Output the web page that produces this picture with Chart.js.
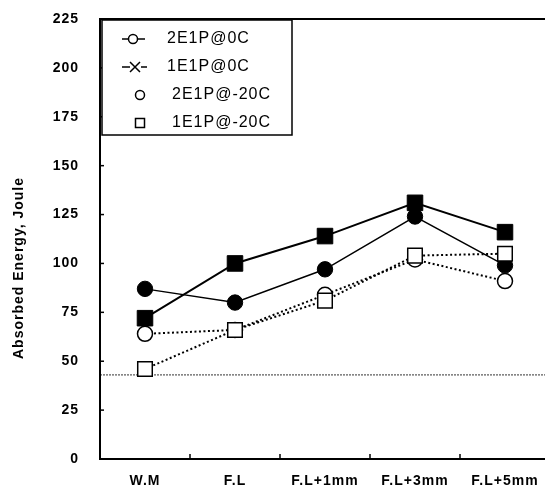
<!DOCTYPE html>
<html>
<head>
<meta charset="utf-8">
<script src="https://cdn.jsdelivr.net/npm/chart.js@4.4.0/dist/chart.umd.min.js"></script>
<style>
  html, body { margin: 0; padding: 0; background: #fff; overflow: hidden; }
</style>
</head>
<body>
<canvas id="chart" width="556" height="493"></canvas>
<script>
// categories and read-off values (Joule)
const categories = ['W.M', 'F.L', 'F.L+1mm', 'F.L+3mm', 'F.L+5mm'];
const e2p0C   = [87, 80, 97, 124, 99];    // filled circles, solid
const e1p0C   = [72, 100, 114, 131, 116]; // filled squares, solid
const e2pM20C = [64, 66, 84, 102, 91];    // open circles, dotted
const e1pM20C = [46, 66, 81, 104, 105];   // open squares, dotted
const refLine = 43;
const yMin = 0, yMax = 225, yStep = 25;

const legendRows = [
  { text: '2E1P@0C',   kind: 'lineCircle' },
  { text: '1E1P@0C',   kind: 'dashCross' },
  { text: '2E1P@-20C', kind: 'circle' },
  { text: '1E1P@-20C', kind: 'square' }
];

Chart.defaults.font.family = '"Liberation Sans", Arial, sans-serif';
Chart.defaults.color = '#000';

const extras = {
  id: 'extras',
  beforeDraw(chart) { chart.ctx.letterSpacing = '1px'; },
  beforeDatasetsDraw(chart) {
    const { ctx, chartArea: a, scales: { x, y } } = chart;
    ctx.save();
    // reference line
    const ry = y.getPixelForValue(refLine);
    ctx.strokeStyle = '#333';
    ctx.lineWidth = 1;
    ctx.setLineDash([2, 1]);
    ctx.beginPath(); ctx.moveTo(a.left, ry); ctx.lineTo(a.right, ry); ctx.stroke();
    ctx.setLineDash([]);
    // frame
    ctx.strokeStyle = '#000';
    ctx.lineWidth = 2;
    ctx.strokeRect(a.left, a.top, a.right - a.left, a.bottom - a.top);
    // inward tick marks
    ctx.lineWidth = 1.5;
    y.ticks.forEach(t => {
      if (t.value <= yMin || t.value >= yMax) return;
      const py = y.getPixelForValue(t.value);
      ctx.beginPath(); ctx.moveTo(a.left, py); ctx.lineTo(a.left + 4, py); ctx.stroke();
    });
    for (let i = 0; i < categories.length - 1; i++) {
      const px = (x.getPixelForValue(i) + x.getPixelForValue(i + 1)) / 2;
      ctx.beginPath(); ctx.moveTo(px, a.bottom); ctx.lineTo(px, a.bottom - 5); ctx.stroke();
    }
    ctx.restore();
  },
  afterDraw(chart) {
    const { ctx, chartArea: a } = chart;
    ctx.save();
    // legend box
    const lx = a.left + 2, ly = a.top + 1, lw = 190, lh = 115;
    ctx.fillStyle = '#fff';
    ctx.fillRect(lx, ly, lw, lh);
    ctx.strokeStyle = '#000';
    ctx.lineWidth = 1.5;
    ctx.strokeRect(lx, ly, lw, lh);
    ctx.font = '16px "Liberation Sans", Arial, sans-serif';
    ctx.letterSpacing = '1px';
    ctx.textBaseline = 'middle';
    ctx.fillStyle = '#000';
    legendRows.forEach((r, i) => {
      const cy = ly + 19 + i * 28;
      ctx.lineWidth = 1.5;
      ctx.beginPath();
      if (r.kind === 'lineCircle') {
        ctx.moveTo(lx + 20, cy); ctx.lineTo(lx + 26, cy);
        ctx.moveTo(lx + 36, cy); ctx.lineTo(lx + 43, cy);
        ctx.stroke();
        ctx.beginPath(); ctx.arc(lx + 31, cy, 4.5, 0, Math.PI * 2); ctx.stroke();
        ctx.fillText(r.text, lx + 65, cy);
      } else if (r.kind === 'dashCross') {
        ctx.moveTo(lx + 20, cy); ctx.lineTo(lx + 28, cy);
        ctx.moveTo(lx + 39, cy); ctx.lineTo(lx + 45, cy);
        ctx.moveTo(lx + 28, cy - 5); ctx.lineTo(lx + 38, cy + 5);
        ctx.moveTo(lx + 38, cy - 5); ctx.lineTo(lx + 28, cy + 5);
        ctx.stroke();
        ctx.fillText(r.text, lx + 65, cy);
      } else if (r.kind === 'circle') {
        ctx.arc(lx + 38, cy, 4.5, 0, Math.PI * 2); ctx.stroke();
        ctx.fillText(r.text, lx + 70, cy);
      } else {
        ctx.strokeRect(lx + 33.5, cy - 4.5, 9, 9);
        ctx.fillText(r.text, lx + 70, cy);
      }
    });
    // y axis title
    ctx.font = 'bold 14px "Liberation Sans", Arial, sans-serif';
    ctx.letterSpacing = '1px';
    ctx.textAlign = 'center';
    ctx.translate(19, (a.top + a.bottom) / 2 + 29);
    ctx.rotate(-Math.PI / 2);
    ctx.fillText('Absorbed Energy, Joule', 0, 0);
    ctx.restore();
  }
};

// tick marks are kept invisible; their length only spaces the labels off the axis
const hiddenGrid = (len) => ({
  display: true, drawOnChartArea: false, drawTicks: true,
  tickLength: len, color: 'rgba(0,0,0,0)'
});

new Chart(document.getElementById('chart'), {
  type: 'line',
  data: {
    labels: categories,
    datasets: [
      { label: '2E1P@0C', data: e2p0C, borderColor: '#000', borderWidth: 1.5,
        pointStyle: 'circle', pointRadius: 7.7, pointBackgroundColor: '#000',
        pointBorderColor: '#000', pointBorderWidth: 1, order: 3 },
      { label: '1E1P@0C', data: e1p0C, borderColor: '#000', borderWidth: 2,
        pointStyle: 'rect', pointRadius: 11, pointBackgroundColor: '#000',
        pointBorderColor: '#000', pointBorderWidth: 1, order: 2 },
      { label: '2E1P@-20C', data: e2pM20C, borderColor: '#000', borderWidth: 2, borderDash: [2, 2.5],
        pointStyle: 'circle', pointRadius: 7.5, pointBackgroundColor: '#fff',
        pointBorderColor: '#000', pointBorderWidth: 1.5, order: 1 },
      { label: '1E1P@-20C', data: e1pM20C, borderColor: '#000', borderWidth: 2, borderDash: [2, 2.5],
        pointStyle: 'rect', pointRadius: 10.3, pointBackgroundColor: '#fff',
        pointBorderColor: '#000', pointBorderWidth: 1.5, order: 0 }
    ]
  },
  options: {
    responsive: false,
    animation: false,
    devicePixelRatio: 1,
    layout: { autoPadding: false, padding: { left: 0, top: 19, right: 6, bottom: 0 } },
    elements: { line: { tension: 0 } },
    plugins: { legend: { display: false }, tooltip: { enabled: false } },
    scales: {
      x: {
        offset: true,
        grid: hiddenGrid(14),
        border: { display: false },
        ticks: { font: { size: 14, weight: 'bold' }, padding: 0, maxRotation: 0 },
        afterFit(s) { s.height = 34; }
      },
      y: {
        min: yMin, max: yMax,
        grid: hiddenGrid(21),
        border: { display: false },
        ticks: { stepSize: yStep, font: { size: 14, weight: 'bold' }, padding: 0 },
        afterFit(s) { s.width = 100; }
      }
    }
  },
  plugins: [extras]
});
</script>
</body>
</html>
